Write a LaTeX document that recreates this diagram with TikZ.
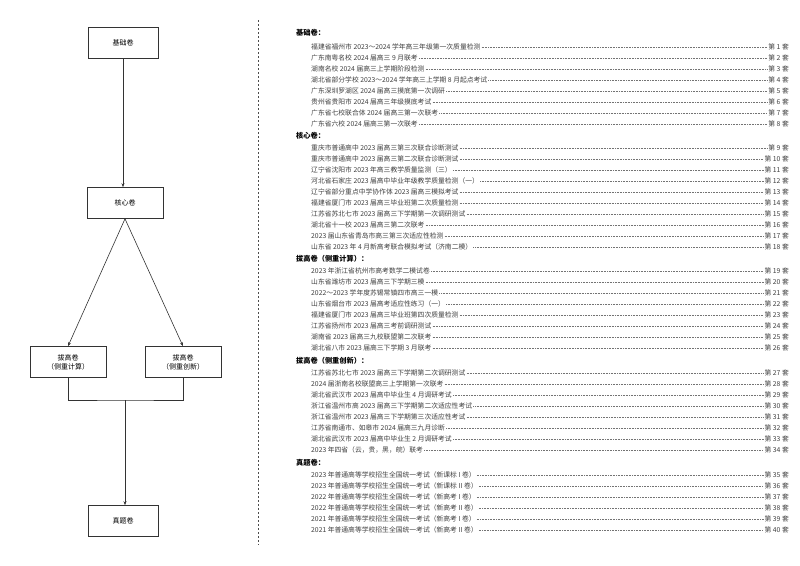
\documentclass[tikz,border=0pt]{standalone}
\usepackage{fontspec}
\setmainfont{Noto Sans CJK SC}
\usetikzlibrary{arrows.meta}
\newcommand\lrow[4]{%
  \node[item] (t#1) at (310,#2) {#3};
  \node[num] (n#1) at (790,#2) {第 #4 套};
  \draw[dotline] (t#1.east) -- (n#1.west);}
\newcommand\lhead[3]{\node[head] (#1) at (296,#2) {#3};}
\begin{document}
\begin{tikzpicture}[x=1pt,y=-1pt,
  box/.style={draw=black!80,line width=0.6pt,minimum width=76pt,minimum height=31pt,inner sep=0pt,align=center,font=\fontsize{7}{9}\selectfont},
  arr/.style={draw=black!80,line width=0.6pt,-{Stealth[length=4pt,width=3pt]}},
  ln/.style={draw=black!80,line width=0.6pt},
  item/.style={anchor=west,inner sep=1pt,font=\fontsize{6.8}{7}\selectfont,text=black!75},
  num/.style={anchor=east,inner sep=1pt,font=\fontsize{6.8}{7}\selectfont,text=black!75},
  head/.style={anchor=west,inner sep=0pt,font=\fontsize{7.2}{8}\selectfont\bfseries},
  dotline/.style={draw=black!55,line width=0.3pt,dash pattern=on 0.4pt off 1.2pt}]
\useasboundingbox (0,0) rectangle (800,565);
\fill[white] (0,0) rectangle (800,565);
% left flow
\node[box,minimum width=70pt] (a) at (123,43) {基础卷};
\node[box] (b) at (125,203) {核心卷};
\node[box] (c) at (68,362) {拔高卷\\（侧重计算）};
\node[box] (d) at (183,362) {拔高卷\\（侧重创新）};
\node[box,minimum width=70pt] (e) at (123,521) {真题卷};
\coordinate (j) at (125,400);
\draw[arr] (a) -- (a|-b.north);
\draw[arr] (b.south) -- (c.north);
\draw[arr] (b.south) -- (d.north);
\draw[ln] (c.south) |- (j) -| (d.south);
\draw[arr] (j) -- (j|-e.north);
\draw[draw=black!70,line width=0.5pt,dash pattern=on 2pt off 2pt] (258,20) -- (258,545);
% list
\lhead{h1}{33}{基础卷：}
\lrow{1}{47}{福建省福州市 2023～2024 学年高三年级第一次质量检测}{1}
\lrow{2}{58}{广东南粤名校 2024 届高三 9 月联考}{2}
\lrow{3}{69}{湖南名校 2024 届高三上学期阶段检测}{3}
\lrow{4}{80}{湖北省部分学校 2023～2024 学年高三上学期 8 月起点考试}{4}
\lrow{5}{91}{广东深圳罗湖区 2024 届高三摸底第一次调研}{5}
\lrow{6}{102}{贵州省贵阳市 2024 届高三年级摸底考试}{6}
\lrow{7}{113}{广东省七校联合体 2024 届高三第一次联考}{7}
\lrow{8}{124}{广东省六校 2024 届高三第一次联考}{8}
\lhead{h2}{136}{核心卷：}
\lrow{9}{148}{重庆市普通高中 2023 届高三第三次联合诊断测试}{9}
\lrow{10}{159}{重庆市普通高中 2023 届高三第二次联合诊断测试}{10}
\lrow{11}{170}{辽宁省沈阳市 2023 年高三教学质量监测（三）}{11}
\lrow{12}{181}{河北省石家庄 2023 届高中毕业年级教学质量检测（一）}{12}
\lrow{13}{192}{辽宁省部分重点中学协作体 2023 届高三模拟考试}{13}
\lrow{14}{203}{福建省厦门市 2023 届高三毕业班第二次质量检测}{14}
\lrow{15}{214}{江苏省苏北七市 2023 届高三下学期第一次调研测试}{15}
\lrow{16}{225}{湖北省十一校 2023 届高三第二次联考}{16}
\lrow{17}{236}{2023 届山东省青岛市高三第三次适应性检测}{17}
\lrow{18}{247}{山东省 2023 年 4 月新高考联合模拟考试（济南二模）}{18}
\lhead{h3}{259}{拔高卷（侧重计算）：}
\lrow{19}{271}{2023 年浙江省杭州市高考数学二模试卷}{19}
\lrow{20}{282}{山东省潍坊市 2023 届高三下学期三模}{20}
\lrow{21}{293}{2022～2023 学年度苏锡常镇四市高三一模}{21}
\lrow{22}{304}{山东省烟台市 2023 届高考适应性练习（一）}{22}
\lrow{23}{315}{福建省厦门市 2023 届高三毕业班第四次质量检测}{23}
\lrow{24}{326}{江苏省扬州市 2023 届高三考前调研测试}{24}
\lrow{25}{337}{湖南省 2023 届高三九校联盟第二次联考}{25}
\lrow{26}{348}{湖北省八市 2023 届高三下学期 3 月联考}{26}
\lhead{h4}{361}{拔高卷（侧重创新）：}
\lrow{27}{373}{江苏省苏北七市 2023 届高三下学期第二次调研测试}{27}
\lrow{28}{384}{2024 届浙南名校联盟高三上学期第一次联考}{28}
\lrow{29}{395}{湖北省武汉市 2023 届高中毕业生 4 月调研考试}{29}
\lrow{30}{406}{浙江省温州市高 2023 届高三下学期第二次适应性考试}{30}
\lrow{31}{417}{浙江省温州市 2023 届高三下学期第三次适应性考试}{31}
\lrow{32}{428}{江苏省南通市、如皋市 2024 届高三九月诊断}{32}
\lrow{33}{439}{湖北省武汉市 2023 届高中毕业生 2 月调研考试}{33}
\lrow{34}{450}{2023 年四省（云，贵，黑，皖）联考}{34}
\lhead{h5}{463}{真题卷：}
\lrow{35}{475}{2023 年普通高等学校招生全国统一考试（新课标 I 卷）}{35}
\lrow{36}{486}{2023 年普通高等学校招生全国统一考试（新课标 II 卷）}{36}
\lrow{37}{497}{2022 年普通高等学校招生全国统一考试（新高考 I 卷）}{37}
\lrow{38}{508}{2022 年普通高等学校招生全国统一考试（新高考 II 卷）}{38}
\lrow{39}{519}{2021 年普通高等学校招生全国统一考试（新高考 I 卷）}{39}
\lrow{40}{530}{2021 年普通高等学校招生全国统一考试（新高考 II 卷）}{40}
\end{tikzpicture}
\end{document}
